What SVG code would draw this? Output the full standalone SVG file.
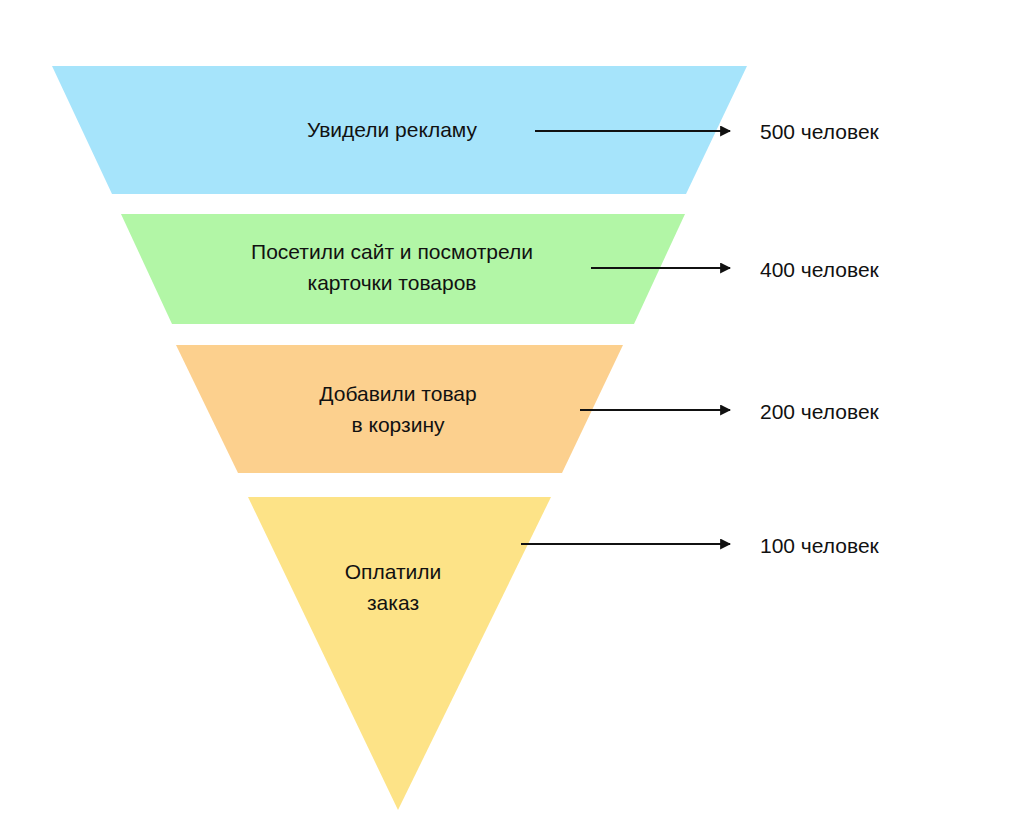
<svg xmlns="http://www.w3.org/2000/svg" width="1024" height="838" viewBox="0 0 1024 838">
<style>
text{font-family:"Liberation Sans",Arial,sans-serif;font-size:21px;fill:#111}
.c{text-anchor:middle}
.a{stroke:#111;stroke-width:2.2;fill:none}
</style>
<defs><marker id="h" viewBox="0 0 10 10" refX="9" refY="5" markerWidth="5" markerHeight="5" orient="auto"><path d="M0,0L10,5L0,10z" fill="#111"/></marker></defs>
<rect width="1024" height="838" fill="#fff"/>
<g id="n1"><polygon points="52,66 747,66 686,194 112,194" fill="#a6e4fb"/><text class="c" x="392" y="137">Увидели рекламу</text></g>
<g id="n2"><polygon points="121,214 685,214 634,324 172,324" fill="#b2f6a6"/><text class="c" x="392" y="259">Посетили сайт и посмотрели</text><text class="c" x="392" y="290">карточки товаров</text></g>
<g id="n3"><polygon points="176,345 623,345 562,473 238,473" fill="#fcd08e"/><text class="c" x="398" y="401">Добавили товар</text><text class="c" x="398" y="432">в корзину</text></g>
<g id="n4"><polygon points="248,497 551,497 398,810" fill="#fde387"/><text class="c" x="393" y="579">Оплатили</text><text class="c" x="393" y="610">заказ</text></g>
<g id="connectors">
<line class="a" x1="535" y1="131" x2="730" y2="131" marker-end="url(#h)"/>
<line class="a" x1="591" y1="268" x2="730" y2="268" marker-end="url(#h)"/>
<line class="a" x1="580" y1="410" x2="730" y2="410" marker-end="url(#h)"/>
<line class="a" x1="521" y1="544" x2="730" y2="544" marker-end="url(#h)"/>
</g>
<g id="labels">
<text x="760" y="139">500 человек</text>
<text x="760" y="277">400 человек</text>
<text x="760" y="419">200 человек</text>
<text x="760" y="553">100 человек</text>
</g>
</svg>
